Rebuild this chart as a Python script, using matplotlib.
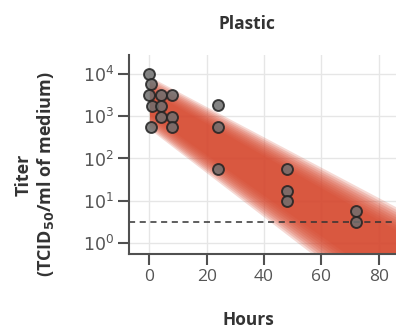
import numpy as np
import matplotlib.pyplot as plt

plt.rcParams['font.family'] = ['Open Sans', 'DejaVu Sans']

# observed titers (log10 TCID50/ml) by hour
hours = [0, 0.5, 0, 4, 8, 0.8, 4, 4, 8, 0.5, 8,
         24, 24, 24,
         48, 48, 48,
         72, 72]
log_titer = [4.0, 3.77, 3.5, 3.5, 3.5, 3.25, 3.25, 2.98, 2.98, 2.74, 2.74,
             3.26, 2.74, 1.76,
             1.74, 1.22, 0.98,
             0.74, 0.50]

# fitted decay band, log10 values at band_hours: faint outer edge and solid core
band_hours = [0, 86]
outer_upper = [3.95, 0.85]
outer_lower = [2.70, -1.80]
core_upper = [3.60, 0.30]
core_lower = [3.05, -1.10]

detection_limit = 10 ** 0.5
xticks = [0, 20, 40, 60, 80]
yticks = [1, 10, 100, 1000, 10000]
ytick_labels = ['$10^0$', '$10^1$', '$10^2$', '$10^3$', '$10^4$']

band_color = '#d6452b'
dark = '#505050'

fig = plt.figure(figsize=(3.96, 3.29), dpi=100)
ax = fig.add_axes([0.326, 0.228, 0.674, 0.605])

# soft edges: stacked translucent layers from the outer edge to the core
n_steps = 10
for f in np.linspace(0, 1, n_steps):
    up = [o + f * (c - o) for o, c in zip(outer_upper, core_upper)]
    lo = [o + f * (c - o) for o, c in zip(outer_lower, core_lower)]
    ax.fill_between(band_hours, np.power(10.0, up), np.power(10.0, lo),
                    color=band_color, alpha=0.2, linewidth=0)

ax.axhline(detection_limit, color='#333333', linestyle=(0, (4, 3)), linewidth=1.1)

ax.scatter(hours, np.power(10.0, log_titer), s=62, facecolor='#6e6e6e',
           edgecolor='#222222', linewidth=1.4, alpha=0.85, zorder=5)

ax.set_yscale('log')
ax.set_xlim(-7.1, 86)
ax.set_ylim(10 ** -0.27, 10 ** 4.46)
ax.set_xticks(xticks)
ax.set_yticks(yticks)
ax.set_yticklabels(ytick_labels)
ax.yaxis.set_minor_locator(plt.NullLocator())
ax.grid(True, color='#e6e6e6', linewidth=1.0)
ax.set_axisbelow(True)

for s in ['top', 'right']:
    ax.spines[s].set_visible(False)
for s in ['left', 'bottom']:
    ax.spines[s].set_color(dark)
    ax.spines[s].set_linewidth(1.5)
ax.tick_params(colors=dark, length=8, width=1.5, labelsize=12.5, pad=3)
ax.tick_params(labelcolor='#555555')

fig.text(0.624, 0.927, 'Plastic', ha='center', va='center', fontsize=12.5, fontweight='bold', color='#333333')
fig.text(0.626, 0.027, 'Hours', ha='center', va='center', fontsize=12.5, fontweight='bold', color='#333333')
fig.text(0.09, 0.47, 'Titer\n(TCID$_{\\mathbf{50}}$/ml of medium)', ha='center', va='center',
         rotation=90, fontsize=13, fontweight='bold', color='#333333', linespacing=1.15)

fig.savefig('out.png', dpi=100)
